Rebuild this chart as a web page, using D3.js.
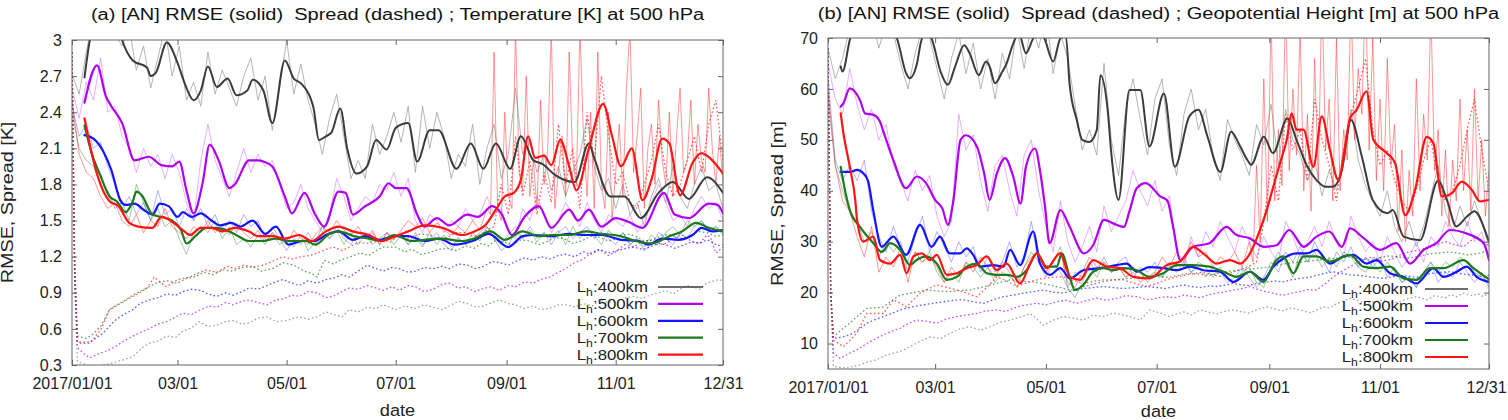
<!DOCTYPE html>
<html>
<head>
<meta charset="utf-8">
<title>[AN] RMSE and Spread at 500 hPa</title>
<script src="https://cdn.jsdelivr.net/npm/d3@7"></script>
<style>
  body { margin: 0; background: #fff; }
  svg { display: block; font-family: "Liberation Sans", Arial, Helvetica, sans-serif; }
</style>
</head>
<body>
<svg id="chart" width="1508" height="420"></svg>
<script>
// ---- shared labels / styling lookups
const seriesNames = ['400km', '500km', '600km', '700km', '800km'];
const lineColors = ['#3c3c3c', '#b000f0', '#1414ff', '#1b7a1b', '#ff1414'];
const rawColors = ['#9c9c9c', '#c850ff', '#4040ff', '#2f8a2f', '#ff3030'];
const rawOpacity = [0.75, 0.45, 0.4, 0.45, 0.5];

const xTickDates = ['2017-01-01', '2017-03-01', '2017-05-01', '2017-07-01', '2017-09-01', '2017-11-01', '2017-12-31'];
const xTickLabels = ['2017/01/01', '03/01', '05/01', '07/01', '09/01', '11/01', '12/31'];
const tTicks = [0.3, 0.6, 0.9, 1.2, 1.5, 1.8, 2.1, 2.4, 2.7, 3];
const tTickLabels = ['0.3', '0.6', '0.9', '1.2', '1.5', '1.8', '2.1', '2.4', '2.7', '3'];
const zTicks = [10, 20, 30, 40, 50, 60, 70];
const zTickLabels = ['10', '20', '30', '40', '50', '60', '70'];

const rawStep = 4;                    // raw daily RMSE, read every 4 days
const lateStart = 234, lateStep = 2;  // 800km raw after it blows up, read every 2 days

// ================= (a) Temperature [K] =================
// smoothed RMSE (thick), [day, value]
const t400Smooth = [[7,2.69],[10,3.0],[14,3.15],[20,3.2],[26,3.1],[28,3.0],[34,2.83],[42,2.77],[44,2.70],[47,2.73],[53,2.98],[59,2.81],[63,2.64],[68,2.50],[72,2.58],[76,2.78],[81,2.61],[87,2.68],[92,2.54],[98,2.58],[101,2.67],[107,2.58],[112,2.31],[119,2.83],[124,2.68],[128,2.64],[135,2.44],[138,2.17],[142,2.20],[145,2.23],[150,2.43],[154,2.09],[159,1.89],[165,1.95],[170,2.17],[176,2.09],[181,2.27],[188,2.31],[193,1.99],[200,2.25],[205,2.25],[215,1.93],[223,2.14],[230,1.93],[237,2.14],[245,1.93],[251,2.20],[258,2.00],[263,1.97],[270,1.88],[281,1.82],[289,2.14],[292,2.02],[301,1.70],[309,1.70],[318,1.52],[328,1.73],[336,1.82],[345,1.68],[355,1.86],[364,1.73]];
const t500Smooth = [[7,2.48],[14,2.79],[19,2.53],[22,2.45],[28,2.31],[35,2.00],[43,2.03],[50,1.96],[56,1.95],[60,1.99],[64,1.75],[68,1.56],[73,1.81],[77,2.13],[82,2.00],[88,1.77],[91,1.80],[99,2.00],[104,2.00],[107,1.99],[112,1.95],[119,1.70],[123,1.56],[130,1.73],[136,1.55],[141,1.45],[149,1.74],[153,1.73],[157,1.55],[164,1.62],[172,1.70],[177,1.81],[181,1.77],[187,1.77],[193,1.55],[197,1.45],[204,1.52],[211,1.46],[221,1.55],[227,1.53],[235,1.62],[240,1.56],[246,1.38],[253,1.53],[261,1.62],[268,1.44],[278,1.59],[283,1.50],[289,1.59],[296,1.45],[304,1.52],[311,1.49],[319,1.44],[331,1.73],[337,1.55],[345,1.52],[356,1.64],[361,1.63],[364,1.56]];
const t600Smooth = [[7,2.21],[12,2.18],[18,2.06],[22,1.92],[27,1.67],[30,1.63],[35,1.64],[40,1.59],[45,1.55],[49,1.64],[54,1.62],[59,1.53],[62,1.57],[67,1.53],[72,1.56],[78,1.50],[83,1.46],[89,1.48],[94,1.45],[101,1.50],[108,1.39],[114,1.45],[121,1.30],[129,1.33],[136,1.33],[142,1.38],[149,1.41],[157,1.34],[164,1.37],[172,1.34],[180,1.37],[188,1.37],[197,1.33],[205,1.35],[214,1.30],[224,1.33],[233,1.39],[244,1.28],[252,1.37],[259,1.38],[268,1.37],[278,1.39],[287,1.38],[296,1.38],[307,1.34],[317,1.33],[322,1.30],[330,1.35],[339,1.34],[347,1.38],[352,1.44],[358,1.41],[364,1.42]];
const t700Smooth = [[7,2.29],[11,2.06],[16,1.87],[21,1.70],[25,1.66],[30,1.57],[34,1.66],[36,1.74],[39,1.71],[45,1.55],[50,1.53],[56,1.50],[61,1.42],[64,1.31],[69,1.37],[75,1.44],[80,1.44],[88,1.41],[93,1.37],[99,1.33],[106,1.33],[114,1.35],[121,1.33],[131,1.33],[136,1.30],[144,1.39],[149,1.41],[158,1.37],[166,1.35],[173,1.33],[180,1.38],[190,1.33],[197,1.34],[207,1.35],[218,1.33],[225,1.35],[234,1.41],[242,1.34],[252,1.41],[261,1.37],[268,1.38],[278,1.38],[287,1.41],[296,1.39],[307,1.37],[315,1.33],[324,1.31],[334,1.37],[341,1.41],[349,1.48],[356,1.44],[364,1.41]];
const t800Smooth = [[7,2.35],[11,2.06],[15,1.84],[21,1.66],[26,1.62],[32,1.48],[37,1.45],[45,1.44],[50,1.53],[56,1.49],[62,1.42],[66,1.38],[72,1.44],[78,1.44],[84,1.41],[91,1.44],[99,1.41],[104,1.37],[112,1.37],[119,1.35],[127,1.38],[134,1.33],[142,1.41],[149,1.45],[157,1.41],[166,1.38],[173,1.33],[181,1.37],[188,1.41],[197,1.46],[207,1.44],[218,1.38],[225,1.41],[231,1.46],[237,1.59],[242,1.70],[247,1.73],[251,1.84],[255,2.20],[259,2.02],[264,2.04],[268,1.96],[273,2.17],[278,1.95],[282,1.75],[289,2.10],[297,2.47],[302,2.20],[307,1.95],[313,2.10],[319,1.67],[324,1.84],[330,2.18],[334,2.14],[340,1.71],[347,1.98],[352,2.06],[358,2.00],[364,1.89]];

// raw RMSE (thin, light), every rawStep days from day 0
const t400Raw = [2.72,2.55,2.9,3.2,3.1,3.3,3.05,2.95,3.1,2.75, 2.95,2.6,2.85,3.1,2.7,2.95,2.5,2.65,2.45,2.9, 2.55,2.75,2.6,2.45,2.7,2.85,2.5,2.7,2.25,2.6, 3.0,2.55,2.8,2.5,2.3,2.05,2.35,2.55,2.2,1.85, 2.0,1.85,2.3,2.05,2.2,2.4,2.15,2.45,1.9,2.45, 2.1,2.4,2.2,1.85,2.05,1.95,2.3,1.8,2.1,2.3, 1.85,2.05,2.6,2.05,2.15,1.9,2.05,1.75,1.95,1.7, 1.9,2.05,2.35,1.95,1.75,1.85,1.6,1.8,1.55,1.65, 1.45,1.7,1.85,1.65,1.95,1.7,1.6,1.8,1.95,1.75, 1.8,1.6];
const t500Raw = [2.6,2.35,2.65,2.5,2.85,2.4,2.45,2.2,2.1,1.9, 2.1,1.95,2.05,1.85,2.05,1.9,1.65,1.5,2.0,2.3, 2.0,1.85,1.7,1.9,2.1,1.9,2.05,1.95,2.0,1.8, 1.6,1.65,1.8,1.6,1.5,1.4,1.55,1.85,1.7,1.5, 1.6,1.7,1.65,1.8,1.75,1.9,1.7,1.85,1.5,1.4, 1.55,1.5,1.4,1.5,1.45,1.6,1.5,1.55,1.7,1.55, 1.6,1.4,1.35,1.6,1.5,1.7,1.55,1.4,1.5,1.65, 1.55,1.45,1.65,1.5,1.4,1.55,1.5,1.45,1.55,1.4, 1.5,1.65,1.8,1.65,1.5,1.55,1.45,1.6,1.7,1.6, 1.65,1.5];
const t600Raw = [2.45,2.2,2.3,2.1,2.15,1.95,1.8,1.6,1.7,1.55, 1.65,1.5,1.75,1.55,1.6,1.45,1.6,1.5,1.6,1.45, 1.55,1.4,1.5,1.4,1.55,1.45,1.5,1.35,1.45,1.35, 1.25,1.35,1.3,1.4,1.3,1.4,1.35,1.45,1.35,1.3, 1.4,1.35,1.4,1.3,1.4,1.35,1.4,1.3,1.4,1.3, 1.35,1.4,1.3,1.25,1.35,1.3,1.35,1.4,1.45,1.35, 1.25,1.3,1.4,1.35,1.45,1.35,1.4,1.3,1.4,1.45, 1.35,1.4,1.45,1.35,1.4,1.35,1.3,1.4,1.3,1.35, 1.25,1.3,1.4,1.35,1.3,1.4,1.35,1.45,1.5,1.4, 1.45,1.4];
const t700Raw = [2.4,2.1,2.0,1.95,1.8,1.75,1.6,1.65,1.5,1.8, 1.65,1.5,1.6,1.45,1.5,1.35,1.22,1.4,1.45,1.4, 1.5,1.35,1.45,1.3,1.35,1.28,1.38,1.3,1.4,1.3, 1.35,1.28,1.38,1.25,1.32,1.45,1.35,1.42,1.3,1.4, 1.3,1.38,1.3,1.35,1.4,1.3,1.38,1.3,1.36,1.28, 1.4,1.3,1.38,1.28,1.36,1.3,1.4,1.33,1.45,1.35, 1.3,1.38,1.45,1.35,1.42,1.32,1.4,1.35,1.42,1.3, 1.45,1.35,1.42,1.38,1.3,1.42,1.35,1.4,1.3,1.35, 1.28,1.38,1.32,1.4,1.45,1.38,1.5,1.45,1.5,1.42, 1.45,1.38];
const t800Raw = [2.5,2.05,1.9,1.85,1.7,1.6,1.65,1.5,1.45,1.55, 1.4,1.5,1.45,1.6,1.45,1.4,1.35,1.45,1.4,1.5, 1.4,1.45,1.38,1.48,1.4,1.35,1.42,1.32,1.4,1.35, 1.3,1.42,1.35,1.3,1.38,1.45,1.4,1.5,1.42,1.38, 1.45,1.35,1.42,1.3,1.4,1.35,1.42,1.5,1.45,1.52, 1.4,1.48,1.42,1.38,1.45,1.4,1.5,1.42,1.6];
const t800RawLate = [1.55,2.9,1.6,1.5,2.4,1.7,1.6,3.1,1.9,1.75, 2.7,1.7,2.0,1.6,2.5,1.8,2.1,3.1,1.6,1.9, 2.2,1.7,2.9,2.0,1.8,3.1,2.2,1.7,2.4,1.6, 2.9,1.8,1.6,2.4,1.5,1.9,2.3,1.7,2.6,3.1, 1.9,2.2,2.6,1.6,2.1,2.3,1.8,2.5,2.0,1.8, 2.4,1.7,2.2,2.6,1.9,2.0,2.5,1.8,2.3,2.0, 1.9,2.6,2.1,1.8,2.2,1.8];

// ensemble spread (dotted), [day, value]
const t400Spread = [[0,2.9],[1.5,1.0],[3,0.33],[8,0.30],[14,0.29],[21,0.31],[28,0.34],[34,0.37],[39,0.44],[43,0.48],[48,0.50],[53,0.54],[58,0.53],[62,0.58],[67,0.61],[71,0.66],[76,0.62],[81,0.63],[86,0.66],[90,0.67],[95,0.64],[99,0.65],[104,0.69],[109,0.70],[114,0.66],[120,0.67],[127,0.70],[132,0.68],[137,0.70],[142,0.74],[146,0.72],[151,0.70],[155,0.76],[160,0.74],[165,0.78],[170,0.77],[174,0.80],[181,0.76],[186,0.79],[192,0.77],[197,0.80],[202,0.78],[207,0.76],[211,0.79],[216,0.83],[221,0.81],[226,0.78],[230,0.79],[235,0.82],[239,0.84],[244,0.81],[248,0.80],[253,0.77],[258,0.79],[262,0.76],[267,0.77],[272,0.80],[277,0.80],[281,0.78],[286,0.81],[291,0.79],[295,0.84],[300,0.82],[305,0.83],[310,0.86],[314,0.87],[319,0.85],[323,0.88],[328,0.90],[332,0.92],[336,0.89],[340,0.93],[344,0.96],[347,0.95],[351,0.93],[355,0.98],[359,1.00],[362,1.01],[364,1.0]];
const t500Spread = [[0,2.9],[1.5,1.0],[3,0.45],[6,0.40],[10,0.36],[16,0.40],[20,0.42],[24,0.45],[29,0.50],[34,0.54],[38,0.57],[43,0.60],[48,0.64],[53,0.66],[58,0.70],[62,0.73],[67,0.72],[72,0.76],[77,0.79],[81,0.78],[86,0.82],[90,0.80],[95,0.83],[99,0.84],[104,0.82],[109,0.80],[114,0.84],[118,0.85],[123,0.88],[127,0.87],[132,0.91],[137,0.90],[142,0.86],[146,0.87],[151,0.91],[155,0.94],[160,0.93],[165,0.96],[170,0.94],[174,0.92],[179,0.95],[183,0.92],[188,0.96],[192,0.95],[197,0.91],[202,0.93],[207,0.97],[211,0.98],[216,0.94],[220,0.95],[225,0.91],[229,0.93],[234,0.95],[239,0.92],[244,0.96],[248,0.95],[253,0.99],[258,0.98],[262,1.01],[267,1.03],[272,1.07],[276,1.10],[281,1.15],[286,1.18],[290,1.23],[295,1.26],[300,1.21],[304,1.24],[309,1.30],[314,1.28],[318,1.32],[323,1.34],[327,1.30],[332,1.31],[337,1.36],[341,1.38],[346,1.33],[351,1.31],[355,1.38],[357,1.36],[360,1.23],[364,1.28]];
const t600Spread = [[0,2.9],[1.5,1.1],[3,0.49],[10,0.49],[17,0.56],[24,0.67],[29,0.72],[34,0.76],[38,0.81],[43,0.84],[48,0.86],[53,0.89],[58,0.88],[62,0.91],[67,0.93],[72,0.92],[76,0.89],[81,0.87],[86,0.90],[90,0.88],[95,0.91],[99,0.94],[104,0.93],[109,0.96],[114,0.99],[118,1.01],[123,0.98],[127,0.96],[132,1.00],[137,0.98],[142,1.01],[146,1.02],[151,1.05],[155,1.03],[160,1.08],[165,1.13],[170,1.10],[174,1.08],[179,1.11],[183,1.10],[188,1.07],[192,1.08],[197,1.11],[202,1.10],[207,1.12],[211,1.10],[216,1.14],[221,1.13],[226,1.10],[230,1.12],[235,1.16],[239,1.15],[244,1.13],[248,1.16],[253,1.19],[258,1.17],[262,1.20],[267,1.18],[272,1.21],[276,1.22],[281,1.20],[286,1.24],[290,1.22],[295,1.26],[300,1.23],[305,1.25],[310,1.27],[314,1.28],[319,1.26],[323,1.28],[328,1.31],[332,1.30],[337,1.27],[341,1.29],[346,1.32],[351,1.31],[355,1.34],[357,1.33],[361,1.29],[364,1.30]];
const t700Spread = [[0,2.9],[1.5,1.1],[3,0.54],[8,0.52],[12,0.56],[16,0.62],[21,0.76],[25,0.80],[29,0.83],[34,0.88],[38,0.91],[43,0.95],[47,0.98],[53,1.00],[59,0.98],[64,1.02],[68,1.03],[74,1.07],[79,1.05],[84,1.09],[90,1.08],[95,1.11],[101,1.12],[106,1.08],[112,1.10],[118,1.15],[124,1.13],[130,1.08],[134,1.06],[137,1.03],[141,1.17],[146,1.14],[150,1.17],[156,1.20],[161,1.23],[166,1.21],[170,1.25],[174,1.28],[181,1.28],[186,1.24],[190,1.26],[195,1.22],[199,1.23],[205,1.26],[210,1.27],[215,1.25],[220,1.29],[225,1.27],[229,1.31],[233,1.29],[237,1.34],[242,1.32],[246,1.30],[251,1.34],[256,1.33],[261,1.30],[265,1.32],[270,1.36],[275,1.35],[280,1.31],[285,1.33],[290,1.37],[295,1.36],[300,1.33],[305,1.35],[310,1.39],[315,1.37],[320,1.33],[325,1.34],[330,1.38],[335,1.38],[340,1.35],[345,1.37],[350,1.41],[355,1.40],[360,1.37],[364,1.38]];
const t800Spread = [[0,2.9],[1.5,1.2],[3,0.50],[5,0.48],[10,0.48],[16,0.59],[21,0.76],[27,0.81],[34,0.87],[38,0.90],[42,0.94],[46,1.03],[50,0.98],[53,0.95],[59,1.01],[66,1.03],[70,1.06],[75,1.09],[81,1.07],[87,1.12],[91,1.10],[96,1.13],[101,1.11],[107,1.13],[112,1.16],[118,1.20],[123,1.18],[128,1.20],[133,1.21],[137,1.23],[142,1.26],[146,1.28],[151,1.25],[155,1.28],[160,1.32],[165,1.31],[170,1.33],[174,1.34],[178,1.32],[182,1.37],[186,1.35],[190,1.36],[195,1.39],[200,1.38],[205,1.34],[210,1.36],[215,1.40],[220,1.40],[224,1.37],[228,1.38],[232,1.42],[236,1.45],[240,1.8],[244,1.55],[248,2.2],[252,1.7],[256,2.0],[260,1.55],[264,1.9],[268,1.65],[272,2.3],[276,1.8],[280,2.1],[284,1.6],[288,2.4],[292,2.0],[296,2.7],[300,2.2],[304,1.8],[308,1.9],[312,1.65],[316,1.6],[320,1.8],[324,2.0],[328,2.3],[332,1.9],[336,1.7],[340,1.8],[344,2.0],[348,2.2],[352,1.9],[356,2.3],[360,2.5],[364,2.0]];

// ================= (b) Geopotential Height [m] =================
const z400Smooth = [[7,64.4],[8,63.4],[12,69.6],[14,72],[20,74],[28,73],[34,72],[38,69.9],[43,63.1],[45,62.1],[49,65.0],[51,68.9],[53,71],[56,70.5],[57,69.9],[62,63.4],[66,60.8],[70,64.4],[75,68.6],[78,67.0],[83,62.7],[87,65.4],[89,64.4],[92,61.1],[96,63.4],[98,64.7],[102,68.9],[105,71],[109,67.0],[113,69.9],[116,71],[119,70],[124,65.4],[128,69.9],[131,70.3],[133,61.1],[137,53.9],[140,50.0],[144,49.6],[148,51.9],[150,62.7],[154,55.9],[156,47.4],[160,38.2],[166,59.8],[172,59.8],[177,48.7],[185,59.1],[191,44.7],[199,54.6],[204,55.9],[209,50.6],[216,43.7],[222,51.6],[227,48.7],[231,46.0],[233,45.1],[240,50.6],[245,47.4],[253,54.2],[258,50.0],[264,44.7],[269,42.1],[274,40.8],[278,40.8],[283,44.1],[288,53.9],[294,46.7],[300,38.2],[308,35.6],[311,36.2],[317,31],[326,30.3],[336,42],[341,38],[346,33],[352,35],[356,36],[363,31],[364,30]];
const z500Smooth = [[7,56.5],[8.5,57.2],[12,60.1],[17.6,57.8],[20.4,55.2],[25,54.9],[28.6,53.6],[30.5,51.6],[36,46.0],[43,40.5],[49,42.8],[54,41.5],[59,38.2],[63,36.5],[66,33.3],[69,38],[73,50.0],[76,50.9],[82,48.7],[86,43.4],[89,38.2],[93,43.4],[97.5,46.4],[102,42.8],[106,37.5],[109,44.7],[114,48.3],[117,43.4],[119.5,36.9],[122,29.7],[128,36.2],[133,33],[141,27.7],[146,29.3],[152,34.3],[157,33.6],[163,32.9],[166,36],[170,40.5],[175,41.5],[183,38.9],[187,38],[190,33],[194,26.4],[201,29.0],[210,29.7],[219.5,32.9],[225,31.3],[232,30.7],[240,29.0],[247,29.3],[254,32.3],[262,29.0],[269,31.0],[276,32.0],[283,29.0],[287.5,32.6],[295,30.7],[304,28.4],[313,29.7],[320.5,25.7],[328,28.4],[335,29.7],[342.5,32.3],[351.7,31.6],[361,29.7],[364,26.4]];
const z600Smooth = [[7,43.7],[12,43.7],[16,44.1],[19.5,43.4],[22,42],[25,36],[29.6,29.0],[36,31.0],[43,27.4],[50.7,33.3],[57,29.0],[61.7,31.0],[67,27.7],[72.7,27.7],[76.4,28.7],[80,27.4],[83.7,25.1],[91,25.4],[96.6,25.1],[100.3,28.4],[105.8,25.4],[113,32.0],[116.8,25.7],[122.3,23.5],[127.8,24.8],[133.3,22.8],[140.6,24.4],[149.8,24.8],[159,25.4],[164.5,25.7],[170,24.1],[177,25.0],[184.6,24.8],[192,24.4],[199.3,25.1],[206.7,24.4],[215.8,24.1],[223.2,22.1],[232.4,24.1],[239.7,22.5],[245.2,25.1],[250.7,26.7],[258,27.7],[263.6,27.7],[269,28.4],[276.4,25.7],[283.8,27.1],[289.3,27.4],[296.6,25.7],[302,26.4],[309.5,23.8],[316.8,23.1],[324,21.8],[333.4,24.8],[338.9,23.1],[346.2,24.1],[351.7,25.1],[357.2,23.1],[364,22.1]];
const z700Smooth = [[7,44.7],[10,39],[12,36.2],[17.6,32.9],[25,29.7],[29.6,28.0],[34.2,29.7],[39.7,28.4],[45.2,25.4],[48.8,26.4],[54.3,27.1],[59.9,25.7],[65.4,22.5],[70.9,23.1],[76.4,25.1],[81.9,25.7],[87.4,23.8],[92.9,23.5],[98.4,23.5],[104,23.1],[109.4,24.4],[115,27.7],[120.4,25.1],[126,25.1],[128.7,27.7],[133.3,22.8],[136,20.5],[140.6,21.5],[146,24.1],[151.7,24.8],[157.2,24.4],[162.7,24.8],[170,24.4],[177,23.1],[184.6,23.8],[192,25.4],[201,25.4],[210,25.1],[217.7,24.1],[225,23.1],[232.4,24.1],[239.7,22.1],[247,26.4],[250.7,27.1],[256.3,23.8],[261.8,27.1],[269,27.1],[276.4,26.1],[287.5,27.4],[294.8,25.1],[302,24.8],[309.5,25.1],[316.8,22.8],[324,22.5],[331.5,24.8],[338.9,24.8],[349.9,26.4],[355.4,24.8],[364,22.6]];
const z800Smooth = [[7,55.2],[8.5,51.3],[12,44.7],[15,38.2],[16,34.3],[19.5,30.0],[25,31.0],[28.6,26.4],[34.2,25.7],[39.7,27.4],[43.3,23.8],[47,27.1],[51.6,27.7],[56.2,26.4],[59.9,27.4],[65.4,23.5],[70.9,23.8],[76.4,24.8],[81.9,25.4],[87.4,27.1],[92.9,24.4],[98.4,25.7],[105.8,21.8],[111.3,25.7],[115,27.7],[120.4,24.8],[127.8,27.7],[133.3,23.1],[138.8,22.5],[146,26.4],[153.5,25.1],[160.8,24.8],[168.2,23.1],[177,22.8],[186.5,25.4],[193.8,26.1],[201,29.0],[207.6,27.4],[214,25.7],[221.4,26.4],[226.9,25.7],[232.4,27.7],[237.9,32.3],[241.6,36.2],[245.2,40.8],[248.9,45.4],[252.6,50.0],[255.3,55.2],[258,52.0],[261.8,52.0],[267.3,44.7],[271.9,54.6],[276.4,48.0],[281,42.1],[287.5,54.2],[291.1,55.9],[296.6,59.5],[300.3,50.0],[307.7,47.4],[312.3,45.4],[317.8,35.2],[323.3,40.2],[329.7,50.6],[333.4,49.3],[338,38.9],[343.5,39.5],[349,41.8],[354.5,40.2],[359,37.9],[364,38.2]];

const z400Raw = [68,62,66,72,75,71,74,68,73,71, 65,60,67,72,70,64,58,66,71,63, 69,60,66,58,67,62,72,64,73,68, 75,63,71,66,57,48,52,47,65,50, 43,56,62,54,47,58,62,49,43,55, 60,52,56,47,42,54,50,47,43,53, 49,57,45,56,50,47,42,46,39,44, 40,48,56,46,41,38,35,40,33,30, 34,29,33,39,45,36,32,37,33,38, 34,29];
const z500Raw = [65,58,55,64,57,52,56,50,53,45, 42,38,44,40,43,35,31,34,55,48, 51,42,36,45,47,40,35,47,50,40, 33,28,38,30,26,29,33,28,37,32, 35,38,44,40,37,42,36,39,28,25, 31,27,32,29,34,31,28,33,30,27, 31,28,26,34,31,27,30,33,29,34, 30,27,35,31,28,30,26,31,28,25, 27,30,26,31,29,34,31,29,34,30, 32,27];
const z600Raw = [62,46,42,45,42,46,36,31,28,33, 29,26,31,35,28,32,29,26,30,27, 29,24,27,24,26,30,25,27,34,26, 23,26,24,21,24,23,26,24,27,24, 26,27,23,25,24,26,23,25,24,26, 24,25,23,25,24,22,23,25,23,21, 23,26,24,28,26,29,26,30,27,24, 28,26,29,25,27,25,27,23,25,22, 23,21,24,26,22,24,23,26,24,22, 24,21];
const z700Raw = [58,45,40,36,34,30,32,27,30,28, 30,24,28,26,28,24,22,24,22,26, 25,23,25,22,24,23,22,25,28,26, 24,26,29,21,19,22,25,23,26,24, 25,23,25,24,22,24,23,26,25,27, 24,26,25,23,25,23,22,24,25,22, 21,25,28,26,23,28,26,28,25,27, 25,28,27,25,24,26,24,26,24,22, 23,21,24,26,24,26,25,27,26,24, 23,22];
const z800Raw = [60,45,38,36,31,27,33,24,27,25, 29,22,28,26,27,25,22,25,23,26, 24,27,25,23,26,24,21,25,27,28, 24,26,28,22,21,24,27,25,26,24, 25,23,24,22,23,24,27,25,28,26, 30,27,28,25,27,26,28,25,30];
const z800RawLate = [26,45,30,62,34,75,38,52,41,78, 44,60,47,72,40,55,36,66,42,80, 48,58,38,70,40,52,46,78,50,64, 55,80,48,70,42,58,40,66,45,53, 32,48,30,44,35,62,40,55,46,76, 44,52,35,48,33,46,38,58,40,52, 36,60,38,50,35,44];

const z400Spread = [[0,68],[1.5,20],[3,5.5],[10,5.2],[17.6,5.8],[22,6.4],[26.8,6.8],[31,7.6],[36,8.1],[41,8.6],[45.2,9.4],[50,10.3],[56.2,11.3],[62,11.0],[67.2,12.0],[72,12.8],[78,13.3],[84,12.6],[89.2,13.3],[95,14.2],[100.3,14.6],[106,15.2],[111.3,15.9],[115,14.8],[118.6,13.6],[124,14.6],[129.6,15.3],[135,15.0],[140.6,14.6],[146,15.6],[151.7,15.3],[157,16.0],[162.7,15.6],[167,15.2],[171.9,14.6],[177.3,16.6],[183,16.0],[188,15.3],[192,15.8],[196,16.2],[200,15.6],[204.8,16.6],[209,16.2],[214,15.8],[218,16.3],[223,16.6],[228,16.2],[232,16.0],[237,16.8],[241.6,17.2],[246,16.8],[250,16.4],[255,17.0],[260,16.6],[266,16.0],[269,16.6],[272.8,17.2],[276,17.0],[280,17.8],[284,18.4],[287.5,18.9],[292,18.4],[296,17.9],[301,18.2],[306,18.6],[310,18.0],[315,18.2],[319,18.8],[324,19.2],[330,18.6],[334,19.4],[337,19.2],[340,19.0],[343,19.6],[346,19.2],[349.9,19.9],[355,19.4],[358,19.8],[361,19.2],[364,20]];
const z500Spread = [[0,68],[1.5,20],[3,8.1],[6.6,7.1],[12,8.1],[17,9.0],[21.3,10.0],[26,10.9],[30.5,11.7],[35,12.4],[39.7,13.0],[44,13.9],[48.8,14.6],[54,14.4],[59.9,14.0],[65,14.8],[70.9,15.3],[76,15.6],[82,15.9],[87,16.4],[93,16.6],[98,16.3],[104,17.2],[109,17.6],[115,17.9],[120,17.6],[126,18.2],[131,18.5],[137,17.9],[142,18.4],[148,18.9],[153,18.5],[159,18.9],[164,19.4],[170,19.2],[174,18.8],[177,18.6],[182,19.0],[186,19.2],[191,19.0],[195.7,19.5],[200,19.3],[205,19.0],[209,19.5],[214,19.9],[219,20.2],[223,20.5],[228,20.8],[232.4,21.2],[237,20.6],[241,20.2],[246,19.8],[250.7,19.5],[255,19.9],[260,20.2],[264,20.6],[269,20.5],[274,21.8],[278.3,23.1],[283,24.2],[287.5,25.1],[291,25.8],[295,26.5],[300,27],[305,26.2],[310,26.5],[315,27.4],[320,28],[325,28.3],[330,28.8],[335,29.4],[340,30],[345,29.4],[350,29],[354,30.2],[357,31],[361,30],[364,29]];
const z600Spread = [[0,68],[1.5,20],[3,11.0],[7,11.2],[12,11.7],[17,12.8],[21.3,14.0],[26,14.7],[30.5,15.3],[35,15.9],[39.7,16.6],[46,17.2],[52.5,17.6],[58,17.9],[63.5,18.2],[69,18.5],[74.5,18.6],[80,18.2],[85.6,17.9],[91,18.6],[96.6,19.2],[102,19.5],[107.6,19.9],[113,20.2],[118.6,20.5],[124,20.1],[129.6,19.9],[135,20.4],[140.6,20.8],[146,21.0],[151.7,21.2],[157,21.0],[162.7,20.8],[169,21.0],[175.5,21.2],[181,21.0],[186,20.8],[191,21.2],[196,21.5],[200,21.2],[205,21.0],[210,21.3],[214,21.2],[219,21.5],[223,21.8],[228,21.5],[232,21.4],[236,21.8],[241,22.0],[246,22.3],[250.7,22.1],[255,22.5],[260,22.8],[265,23.0],[269,23.4],[274,23.8],[278,24.1],[283,23.8],[287,23.5],[292,23.4],[296,23.2],[301,23.0],[306,22.8],[311,23.1],[315,23.4],[320,23.2],[324,23.0],[329,23.5],[333,23.8],[338,24.0],[342.5,24.1],[347,23.8],[351,23.6],[356,23.4],[361,23.1],[364,23.4]];
const z700Spread = [[0,68],[1.5,20],[3,11.3],[7,12.6],[12,14.0],[17,15.6],[21.3,16.9],[26,17.0],[30.5,17.2],[35,18.4],[39.7,19.5],[47,20.0],[54.3,20.5],[61,20.3],[67.2,20.2],[72,20.4],[78,20.5],[84,21.0],[89.2,21.5],[95,22.0],[100.3,22.5],[106,22.3],[113,22.1],[118,21.8],[122.3,21.5],[128,21.0],[133.3,20.5],[139,21.0],[144.3,21.5],[150,22.0],[155,22.4],[160,22.6],[166,22.8],[171,23.0],[177,23.2],[182,23.1],[188,23.0],[193,23.4],[199,23.8],[205,23.6],[210,23.4],[215,23.8],[221,24.2],[226,24.4],[232,24.6],[237,24.8],[243,25.0],[248,25.4],[254,25.8],[260,26.0],[265,26.2],[270,26.4],[276,26.6],[281,26.8],[287,27.0],[292,26.7],[298,26.4],[303,26.8],[309,27.2],[314,27.0],[320,26.8],[326,27.2],[331,27.6],[337,27.8],[342,28.0],[348,27.7],[353,27.4],[359,27.8],[364,28.2]];
const z800Spread = [[0,68],[1.5,20],[3,10.7],[8.5,9.4],[12,10.6],[15.8,12.0],[21.3,15.9],[26,15.9],[30.5,15.9],[36,18.6],[40,17.9],[43.3,17.2],[47,18.6],[50.7,19.9],[55,20.7],[59.9,21.5],[66,21.0],[71,20.5],[77,19.8],[82,19.2],[88,21.2],[93,23.1],[99,22.2],[104,21.2],[111,22.1],[114,22.4],[118.6,22.8],[124,23.0],[129.6,23.1],[135,22.4],[140.6,21.8],[146,22.2],[151.7,22.5],[157,22.5],[162.7,22.5],[169,21.8],[175.5,21.2],[181,21.8],[186,22.5],[191,23.0],[196,23.4],[201,23.7],[206,24.0],[211,23.6],[216,23.2],[221,23.8],[226,24.4],[229,24.8],[232,25.2],[236,26],[240,34],[244,45],[248,38],[252,55],[256,48],[260,52],[264,42],[268,58],[272,50],[276,45],[280,38],[284,48],[288,55],[292,60],[296,66],[300,52],[304,45],[308,48],[312,42],[316,38],[320,36],[324,40],[328,46],[332,50],[336,42],[340,38],[344,40],[348,45],[352,52],[356,58],[360,48],[364,40]];

// ---- helpers
const startMs = Date.UTC(2017, 0, 1);
const dayToDate = d => new Date(startMs + d * 864e5);
const parseDay = d3.utcParse('%Y-%m-%d');
const stepped = (values, start, step) => values.map((v, i) => [start + i * step, v]);

const svg = d3.select('#chart');

function drawPanel(p) {
    const x = d3.scaleUtc()
        .domain([dayToDate(0), dayToDate(364)])
        .range([p.left, p.right]);
    const y = d3.scaleLinear()
        .domain(p.yDomain)
        .range([p.bottom, p.top]);

    const clipId = 'clip-' + p.id;
    svg.append('clipPath').attr('id', clipId)
        .append('rect')
        .attr('x', p.left).attr('y', p.top)
        .attr('width', p.right - p.left).attr('height', p.bottom - p.top);

    const plot = svg.append('g').attr('clip-path', `url(#${clipId})`);

    const line = d3.line()
        .x(d => x(dayToDate(d[0])))
        .y(d => y(d[1]));
    const smoothLine = d3.line()
        .x(d => x(dayToDate(d[0])))
        .y(d => y(d[1]))
        .curve(d3.curveMonotoneX);

    // raw RMSE, light and thin
    p.series.forEach((s, i) => {
        plot.append('path')
            .datum(s.raw)
            .attr('d', line)
            .attr('fill', 'none')
            .attr('stroke', rawColors[i])
            .attr('stroke-opacity', rawOpacity[i])
            .attr('stroke-width', 1)
            .attr('stroke-linejoin', 'round');
    });

    // spread, dotted
    p.series.forEach((s, i) => {
        plot.append('path')
            .datum(s.spread)
            .attr('d', line)
            .attr('fill', 'none')
            .attr('stroke', i === 0 ? '#7a7a7a' : lineColors[i])
            .attr('stroke-opacity', 0.7)
            .attr('stroke-width', 1.3)
            .attr('stroke-dasharray', '1.6,2.4');
    });

    // smoothed RMSE, thick
    p.series.forEach((s, i) => {
        plot.append('path')
            .datum(s.smooth)
            .attr('d', smoothLine)
            .attr('fill', 'none')
            .attr('stroke', lineColors[i])
            .attr('stroke-width', i === 0 ? 2 : 2.2)
            .attr('stroke-linejoin', 'round')
            .attr('stroke-linecap', 'round');
    });

    // frame and inward ticks on all four sides
    const tickDates = xTickDates.map(parseDay);
    const axisStyle = g => {
        g.select('.domain').remove();
        g.selectAll('line').attr('stroke', '#666');
        g.selectAll('text').attr('fill', '#222').style('font-size', '16px')
            .style('font-family', '"Liberation Sans", Arial, sans-serif');
    };

    const bottomAxis = svg.append('g')
        .attr('transform', `translate(0,${p.bottom})`)
        .call(d3.axisBottom(x).tickValues(tickDates).tickFormat((d, i) => xTickLabels[i])
            .tickSizeInner(-5).tickSizeOuter(0).tickPadding(p.xPad))
        .call(axisStyle);
    // keep the last date label inside the window
    bottomAxis.selectAll('.tick text')
        .filter((d, i) => i === xTickLabels.length - 1)
        .attr('dx', p.lastLabelShift);

    svg.append('g')
        .attr('transform', `translate(0,${p.top})`)
        .call(d3.axisTop(x).tickValues(tickDates).tickFormat('').tickSizeInner(-5).tickSizeOuter(0))
        .call(axisStyle);
    svg.append('g')
        .attr('transform', `translate(${p.left},0)`)
        .call(d3.axisLeft(y).tickValues(p.yTicks).tickFormat((d, i) => p.yTickLabels[i])
            .tickSizeInner(-5).tickSizeOuter(0).tickPadding(10))
        .call(axisStyle);
    svg.append('g')
        .attr('transform', `translate(${p.right},0)`)
        .call(d3.axisRight(y).tickValues(p.yTicks).tickFormat('').tickSizeInner(-5).tickSizeOuter(0))
        .call(axisStyle);

    svg.append('rect')
        .attr('x', p.left).attr('y', p.top)
        .attr('width', p.right - p.left).attr('height', p.bottom - p.top)
        .attr('fill', 'none')
        .attr('stroke', '#666')
        .attr('stroke-width', 1);

    // title (keeps the double space after "(solid)")
    svg.append('text')
        .attr('transform', `translate(${(p.left + p.right) / 2},${p.titleY}) scale(1.25,1)`)
        .attr('text-anchor', 'middle')
        .attr('xml:space', 'preserve')
        .style('white-space', 'pre')
        .style('font-size', '16px')
        .attr('fill', '#111')
        .text(p.title);

    // axis labels
    svg.append('text')
        .attr('transform', `translate(${(p.left + p.right) / 2},${p.dateY}) scale(1.1,1)`)
        .attr('text-anchor', 'middle')
        .style('font-size', '16.5px')
        .attr('fill', '#222')
        .text('date');
    svg.append('text')
        .attr('transform', `translate(${p.yLabelX},${(p.top + p.bottom) / 2}) rotate(-90) scale(1.2,1)`)
        .attr('text-anchor', 'middle')
        .style('font-size', '16.5px')
        .attr('fill', '#222')
        .text(p.yLabel);

    // legend
    seriesNames.forEach((name, i) => {
        const ly = p.legendY + i * p.legendGap;
        const t = svg.append('text')
            .attr('transform', `translate(${p.legendTextX},${ly}) scale(1.12,1)`)
            .attr('text-anchor', 'end')
            .attr('dy', '0.33em')
            .style('font-size', '15px')
            .attr('fill', '#222');
        t.append('tspan').text('L');
        t.append('tspan').attr('dy', 4).style('font-size', '11px').text('h');
        t.append('tspan').attr('dy', -4).text(':' + name);

        svg.append('line')
            .attr('x1', p.legendLineX[0]).attr('x2', p.legendLineX[1])
            .attr('y1', ly).attr('y2', ly)
            .attr('stroke', lineColors[i])
            .attr('stroke-width', i === 0 ? 1.6 : 2.2);
    });
}

drawPanel({
    id: 'temp',
    left: 72, right: 723, top: 40, bottom: 365,
    yDomain: [0.3, 3], yTicks: tTicks, yTickLabels: tTickLabels,
    xPad: 13, lastLabelShift: 0, titleY: 20, dateY: 416, yLabelX: 13,
    title: '(a) [AN] RMSE (solid)  Spread (dashed) ; Temperature [K] at 500 hPa',
    yLabel: 'RMSE, Spread [K]',
    legendTextX: 648, legendLineX: [658, 703], legendY: 287, legendGap: 16.9,
    series: [
        { smooth: t400Smooth, raw: stepped(t400Raw, 0, rawStep), spread: t400Spread },
        { smooth: t500Smooth, raw: stepped(t500Raw, 0, rawStep), spread: t500Spread },
        { smooth: t600Smooth, raw: stepped(t600Raw, 0, rawStep), spread: t600Spread },
        { smooth: t700Smooth, raw: stepped(t700Raw, 0, rawStep), spread: t700Spread },
        { smooth: t800Smooth, raw: stepped(t800Raw, 0, rawStep).concat(stepped(t800RawLate, lateStart, lateStep)), spread: t800Spread }
    ]
});

drawPanel({
    id: 'geo',
    left: 828, right: 1489, top: 38, bottom: 369,
    yDomain: [5, 70], yTicks: zTicks, yTickLabels: zTickLabels,
    xPad: 13, lastLabelShift: -3, titleY: 19, dateY: 417, yLabelX: 783,
    title: '(b) [AN] RMSE (solid)  Spread (dashed) ; Geopotential Height [m] at 500 hPa',
    yLabel: 'RMSE, Spread [m]',
    legendTextX: 1413, legendLineX: [1425, 1468], legendY: 289, legendGap: 17,
    series: [
        { smooth: z400Smooth, raw: stepped(z400Raw, 0, rawStep), spread: z400Spread },
        { smooth: z500Smooth, raw: stepped(z500Raw, 0, rawStep), spread: z500Spread },
        { smooth: z600Smooth, raw: stepped(z600Raw, 0, rawStep), spread: z600Spread },
        { smooth: z700Smooth, raw: stepped(z700Raw, 0, rawStep), spread: z700Spread },
        { smooth: z800Smooth, raw: stepped(z800Raw, 0, rawStep).concat(stepped(z800RawLate, lateStart, lateStep)), spread: z800Spread }
    ]
});
</script>
</body>
</html>
